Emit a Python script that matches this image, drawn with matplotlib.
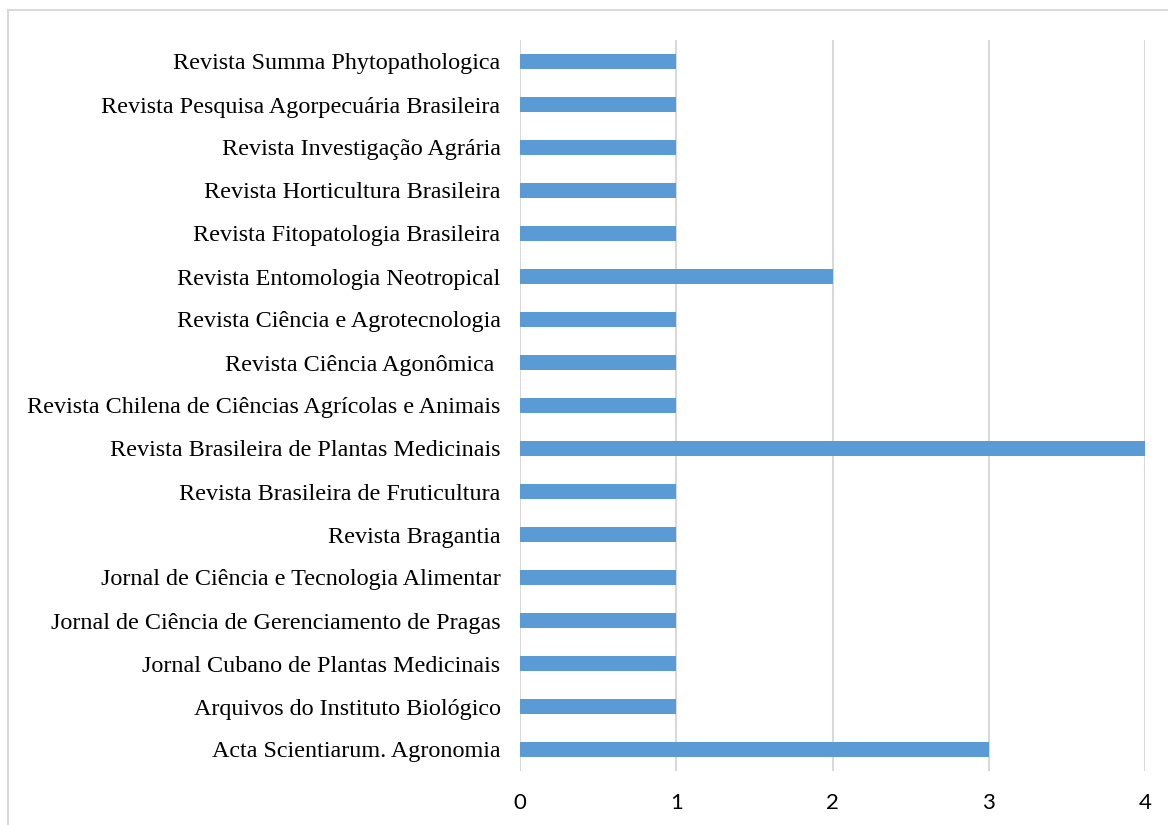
import matplotlib.pyplot as plt
from matplotlib.patches import Rectangle

journals = [
    'Acta Scientiarum. Agronomia',
    'Arquivos do Instituto Biológico',
    'Jornal Cubano de Plantas Medicinais',
    'Jornal de Ciência de Gerenciamento de Pragas',
    'Jornal de Ciência e Tecnologia Alimentar',
    'Revista Bragantia',
    'Revista Brasileira de Fruticultura',
    'Revista Brasileira de Plantas Medicinais',
    'Revista Chilena de Ciências Agrícolas e Animais',
    'Revista Ciência Agonômica ',
    'Revista Ciência e Agrotecnologia',
    'Revista Entomologia Neotropical',
    'Revista Fitopatologia Brasileira',
    'Revista Horticultura Brasileira',
    'Revista Investigação Agrária',
    'Revista Pesquisa Agorpecuária Brasileira',
    'Revista Summa Phytopathologica',
]
counts = [3, 1, 1, 1, 1, 1, 1, 4, 1, 1, 1, 2, 1, 1, 1, 1, 1]
xticks = [0, 1, 2, 3, 4]

fig = plt.figure(figsize=(11.68, 8.25), dpi=100)
ax = fig.add_axes([520 / 1168, 1 - 771 / 825, 625 / 1168, 731 / 825])

ax.barh(range(len(journals)), counts, height=0.35, color='#5b9bd5', zorder=3)
ax.set_ylim(-0.5, len(journals) - 0.5)
ax.set_xlim(0, 4)
ax.set_xticks(xticks)
ax.set_xticklabels([str(t) for t in xticks], fontsize=16,
                   family=['Liberation Sans Narrow', 'Lato', 'DejaVu Sans'])
ax.set_yticks(range(len(journals)))
ax.set_yticklabels(journals, fontsize=17.4, family=['Liberation Serif', 'DejaVu Serif'])
ax.tick_params(axis='both', length=0)
ax.tick_params(axis='y', pad=14)
ax.tick_params(axis='x', pad=16)
ax.grid(axis='x', color='#d9d9d9', linewidth=1.5, zorder=0)
for s in ax.spines.values():
    s.set_visible(False)

# outer chart border
fig.patches.append(Rectangle((8 / 1168, -0.1), 1.2, 1 - 10 / 825 + 0.1,
                             transform=fig.transFigure, fill=False,
                             edgecolor='#d9d9d9', linewidth=1.5))

fig.savefig('out.png', dpi=100)
